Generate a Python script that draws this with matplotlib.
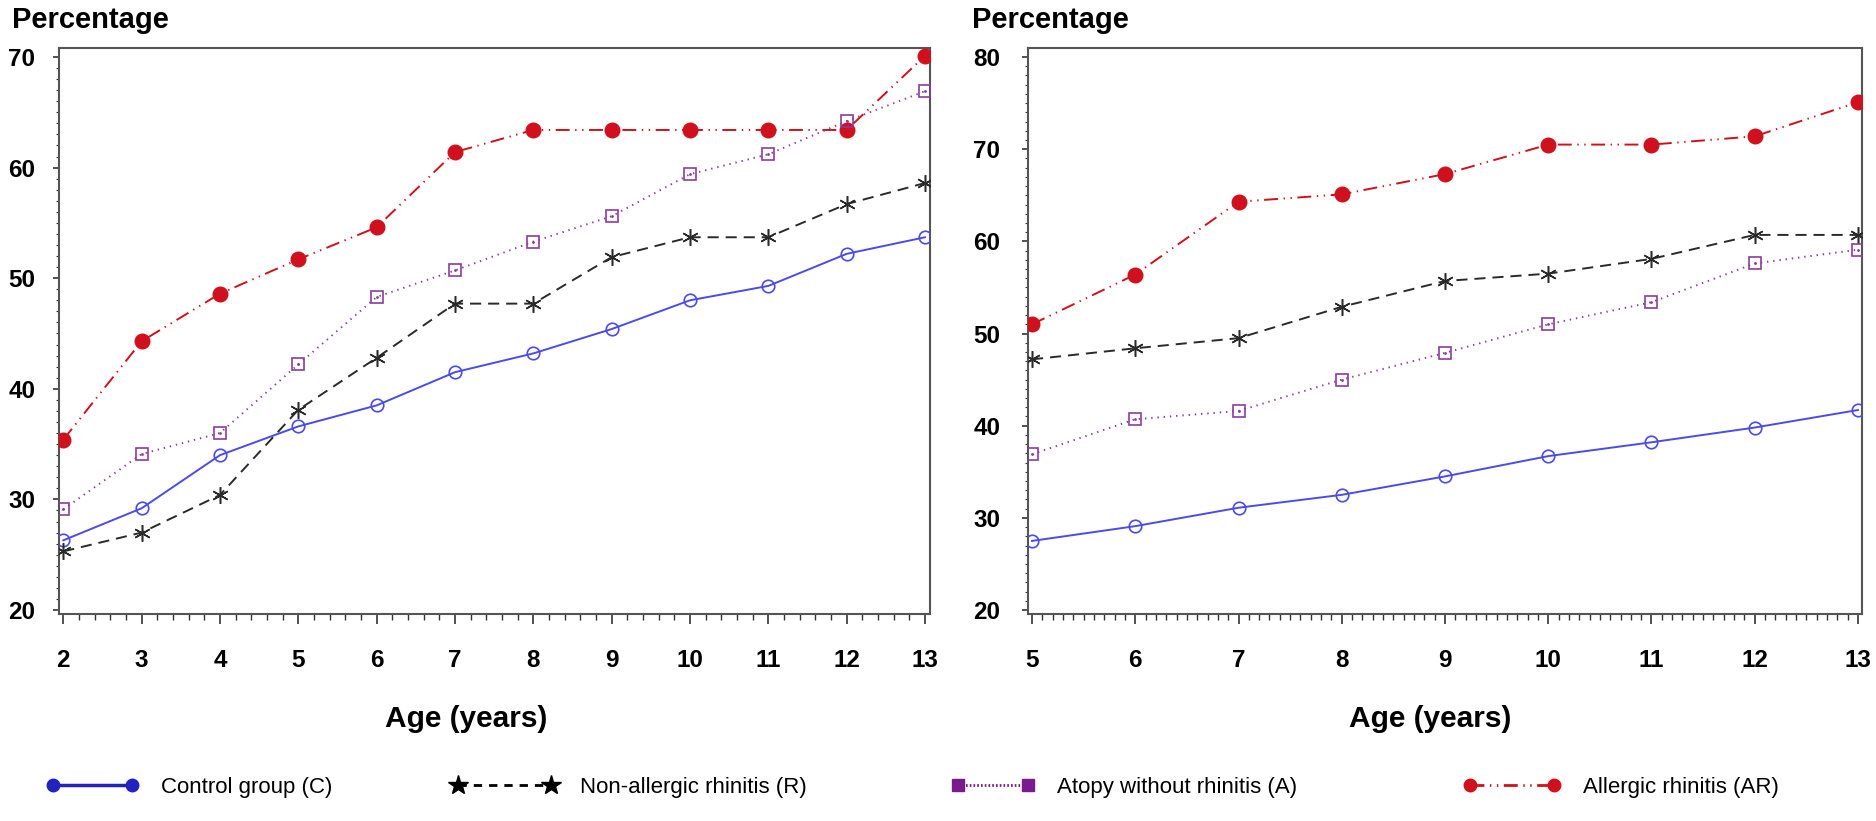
import matplotlib.pyplot as plt
from matplotlib import font_manager
from matplotlib.lines import Line2D
from matplotlib.ticker import MultipleLocator

plt.rcParams['font.family'] = ['Liberation Sans', 'DejaVu Sans']
plt.rcParams['lines.scale_dashes'] = False

# ages 2-13
age_l = [2, 3, 4, 5, 6, 7, 8, 9, 10, 11, 12, 13]
c_l = [26.3, 29.2, 34.0, 36.6, 38.5, 41.5, 43.2, 45.4, 48.0, 49.3, 52.2, 53.7]
r_l = [25.3, 27.0, 30.4, 38.1, 42.8, 47.7, 47.7, 51.9, 53.7, 53.7, 56.7, 58.6]
a_l = [29.1, 34.1, 36.0, 42.2, 48.3, 50.7, 53.3, 55.6, 59.4, 61.2, 64.2, 66.9]
ar_l = [35.4, 44.3, 48.6, 51.7, 54.6, 61.4, 63.4, 63.4, 63.4, 63.4, 63.4, 70.1]

# ages 5-13
age_r = [5, 6, 7, 8, 9, 10, 11, 12, 13]
c_r = [27.5, 29.1, 31.1, 32.5, 34.5, 36.7, 38.2, 39.8, 41.7]
r_r = [47.2, 48.4, 49.5, 52.9, 55.7, 56.5, 58.1, 60.7, 60.7]
a_r = [36.9, 40.7, 41.6, 45.0, 47.9, 51.0, 53.4, 57.6, 59.1]
ar_r = [51.0, 56.4, 64.3, 65.1, 67.3, 70.5, 70.5, 71.4, 75.1]

labels = ['Control group (C)', 'Non-allergic rhinitis (R)',
          'Atopy without rhinitis (A)', 'Allergic rhinitis (AR)']

BLUE = '#4b4be8'
BLACK = '#2a2a2a'
PURPLE = '#8a3c9c'
RED = '#d0101c'

AR_DASH = (10, 4, 1, 4, 1, 4)

# narrow face for the legend if it is there
try:
    font_manager.findfont('Liberation Sans Narrow', fallback_to_default=False)
    legend_font = {'family': 'Liberation Sans Narrow', 'size': 19}
except ValueError:
    legend_font = {'family': 'Liberation Sans', 'size': 16}

W, H = 1876, 821
fig = plt.figure(figsize=(W / 100, H / 100), dpi=100)
ax1 = fig.add_axes([59 / W, 1 - 614 / H, 871 / W, 566 / H])
ax2 = fig.add_axes([1028 / W, 1 - 614 / H, 834 / W, 566 / H])


def draw(ax, x, c, r, a, ar):
    ax.plot(x, c, color=BLUE, lw=1.4, marker='o', ms=9, mfc='none',
            mec=BLUE, mew=1.2, zorder=3)
    ax.plot(x, r, color=BLACK, lw=1.4, dashes=(8, 5), marker=(6, 2, 0),
            ms=12, mec=BLACK, mew=1.1, zorder=3)
    ax.plot(x, a, color=PURPLE, lw=1.4, dashes=(1, 3.5), marker='s', ms=9,
            mfc='none', mec=PURPLE, mew=1.2, zorder=4)
    ax.plot(x, a, ls='none', marker='.', ms=2, color=PURPLE, zorder=4)
    ax.plot(x, ar, color=RED, lw=1.4, dashes=AR_DASH, marker='o', ms=10.5,
            mfc=RED, mec=RED, zorder=3)


def style(ax, minor_x, xlab_x, ypad):
    for s in ax.spines.values():
        s.set_color('#555555')
        s.set_linewidth(1.5)
    ax.xaxis.set_minor_locator(MultipleLocator(minor_x))
    ax.yaxis.set_major_locator(MultipleLocator(10))
    ax.yaxis.set_minor_locator(MultipleLocator(1))
    ax.tick_params(axis='both', which='both', direction='out', color='#333333')
    ax.tick_params(axis='x', which='major', length=7, width=1.2, pad=18)
    ax.tick_params(axis='x', which='minor', length=4, width=1)
    ax.tick_params(axis='y', which='major', length=4, width=1.2, pad=ypad)
    ax.tick_params(axis='y', which='minor', length=2, width=0.8)
    for t in ax.get_xticklabels() + ax.get_yticklabels():
        t.set_fontweight('bold')
        t.set_fontsize(17.5)
    ax.set_xlabel('Age (years)', fontsize=21.5, fontweight='bold')
    ax.xaxis.set_label_coords(xlab_x, -0.16)


draw(ax1, age_l, c_l, r_l, a_l, ar_l)
ax1.set_xlim(1.945, 13.064)
ax1.set_ylim(19.64, 70.81)
ax1.set_xticks(age_l)
style(ax1, 0.2, 0.468, 13)

draw(ax2, age_r, c_r, r_r, a_r, ar_r)
ax2.set_xlim(4.961, 13.039)
ax2.set_ylim(19.57, 80.98)
ax2.set_xticks(age_r)
style(ax2, 0.1, 0.482, 16)

fig.text(12 / W, 1 - 20 / H, 'Percentage', fontsize=21, fontweight='bold',
         va='center', ha='left')
fig.text(972 / W, 1 - 20 / H, 'Percentage', fontsize=21, fontweight='bold',
         va='center', ha='left')

# legend: filled markers at both ends of each sample line
handles = [
    Line2D([], [], color='#2222c0', lw=2.5, marker='o', ms=9),
    Line2D([], [], color='black', lw=2, dashes=(6, 5), marker='*', ms=15),
    Line2D([], [], color='#7a1a8c', lw=2, dashes=(1.2, 1.5), marker='s', ms=9),
    Line2D([], [], color=RED, lw=2, dashes=AR_DASH, marker='o', ms=9),
]
x_anchor = [46, 451, 951, 1463]
hlen = [93, 107, 84, 98]
for h, lab, xa, hl in zip(handles, labels, x_anchor, hlen):
    fs_px = legend_font['size'] * 100 / 72
    fig.legend(handles=[h], labels=[lab], loc='center left',
               bbox_to_anchor=(xa / W, 1 - 787 / H), frameon=False,
               borderpad=0, borderaxespad=0, numpoints=2,
               handlelength=hl / fs_px, handletextpad=22 / fs_px,
               prop=legend_font)

fig.savefig('out.png', dpi=100)
